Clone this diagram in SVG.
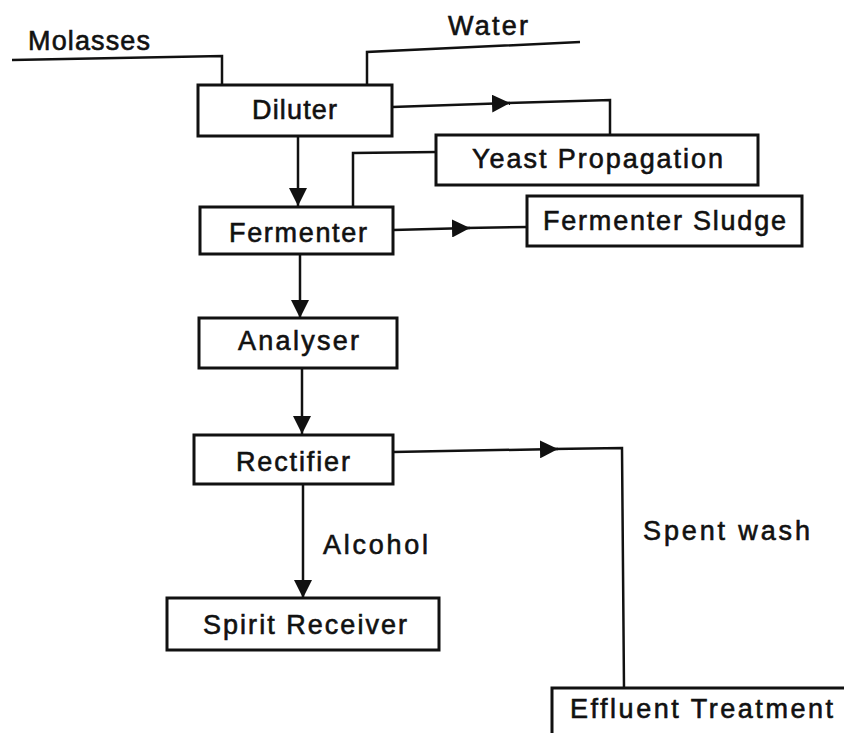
<svg xmlns="http://www.w3.org/2000/svg" width="844" height="733" viewBox="0 0 844 733">
<style>
.box{fill:#fff;stroke:#111;stroke-width:3}
.ln{fill:none;stroke:#111;stroke-width:2.5}
.lbl{font-family:"Liberation Sans",Arial,sans-serif;font-size:27px;fill:#111;stroke:#111;stroke-width:0.6}
</style>
<defs>
<marker id="ah" markerUnits="userSpaceOnUse" markerWidth="18" markerHeight="18" refX="18" refY="9" orient="auto">
<path d="M0,0 L18,9 L0,18 z" fill="#111"/>
</marker>
</defs>
<rect width="844" height="733" fill="#fff"/>
<g id="connectors">
<path class="ln" d="M12,60 L222,56 L222,86"/>
<path class="ln" d="M367,86 L367,52 L580,42"/>
<path class="ln" d="M392,107 L510,103" marker-end="url(#ah)"/>
<path class="ln" d="M505,103 L610,100 L610,135"/>
<path class="ln" d="M437,152 L353,153 L353,208"/>
<path class="ln" d="M298,136 L298,206" marker-end="url(#ah)"/>
<path class="ln" d="M393,230 L470,228" marker-end="url(#ah)"/>
<path class="ln" d="M465,228 L528,227"/>
<path class="ln" d="M300,254 L300,318" marker-end="url(#ah)"/>
<path class="ln" d="M302,368 L302,434" marker-end="url(#ah)"/>
<path class="ln" d="M393,452 L558,449" marker-end="url(#ah)"/>
<path class="ln" d="M553,449 L622,448 L624,688"/>
<path class="ln" d="M303,485 L303,598" stroke-width="4" marker-end="url(#ah)"/>
<text class="lbl" x="28" y="50" textLength="122" lengthAdjust="spacing">Molasses</text>
<text class="lbl" x="448" y="35" textLength="80" lengthAdjust="spacing">Water</text>
<text class="lbl" x="323" y="554" textLength="105" lengthAdjust="spacing">Alcohol</text>
<text class="lbl" x="643" y="540" textLength="167" lengthAdjust="spacing">Spent wash</text>
</g>
<g id="diluter">
<rect class="box" x="198" y="85" width="194" height="51"/>
<text class="lbl" x="252" y="119" textLength="85" lengthAdjust="spacing">Diluter</text>
</g>
<g id="yeast">
<rect class="box" x="436" y="135" width="322" height="50"/>
<text class="lbl" x="472" y="168" textLength="251" lengthAdjust="spacing">Yeast Propagation</text>
</g>
<g id="fermenter">
<rect class="box" x="200" y="207" width="193" height="47"/>
<text class="lbl" x="229" y="242" textLength="138" lengthAdjust="spacing">Fermenter</text>
</g>
<g id="sludge">
<rect class="box" x="527" y="196" width="275" height="50"/>
<text class="lbl" x="543" y="230" textLength="243" lengthAdjust="spacing">Fermenter Sludge</text>
</g>
<g id="analyser">
<rect class="box" x="199" y="318" width="198" height="50"/>
<text class="lbl" x="238" y="350" textLength="121" lengthAdjust="spacing">Analyser</text>
</g>
<g id="rectifier">
<rect class="box" x="194" y="435" width="199" height="49"/>
<text class="lbl" x="236" y="471" textLength="114" lengthAdjust="spacing">Rectifier</text>
</g>
<g id="spirit">
<rect class="box" x="167" y="598" width="272" height="52"/>
<text class="lbl" x="203" y="634" textLength="204" lengthAdjust="spacing">Spirit Receiver</text>
</g>
<g id="effluent">
<rect class="box" x="552" y="688" width="300" height="60"/>
<text class="lbl" x="570" y="718" textLength="263" lengthAdjust="spacing">Effluent Treatment</text>
</g>
</svg>
